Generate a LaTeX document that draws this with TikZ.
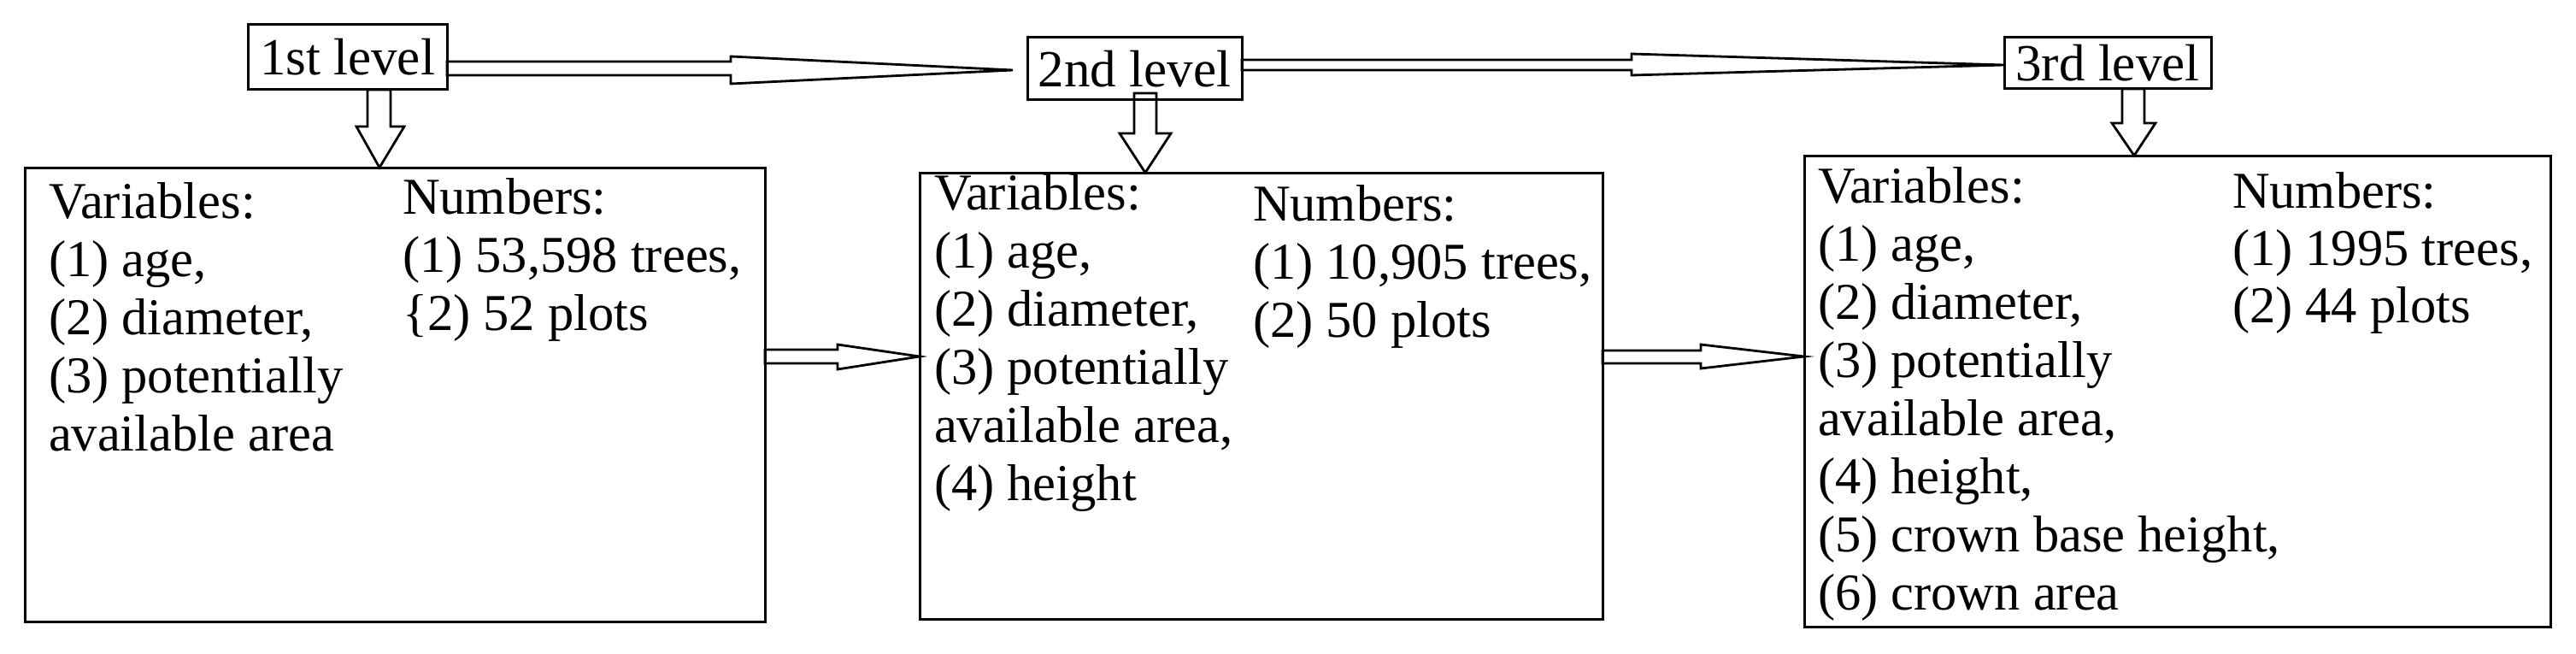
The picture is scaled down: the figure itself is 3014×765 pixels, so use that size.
\documentclass[tikz,border=0pt]{standalone}
\usepackage{fontspec}
\setmainfont{Liberation Serif}
\begin{document}
\begin{tikzpicture}[x=1pt,y=-1pt,
  box/.style={draw, line width=3pt, inner sep=0pt, outer sep=0pt},
  lvl/.style={box, font=\fontsize{61}{70}\selectfont},
  txt/.style={anchor=base west, inner sep=0pt, outer sep=0pt, font=\fontsize{60.5}{68}\selectfont},
  blk/.style={draw, line width=2.8pt, line join=miter}]
\useasboundingbox (0,0) rectangle (3014,765);

% level boxes
\node[lvl, minimum width=233pt, minimum height=76pt] (L1) at (406.5,67) {1st level};
\node[lvl, minimum width=251pt, minimum height=73pt] (L2) at (1327.5,80.5) {2nd level};
\node[lvl, minimum width=242pt, minimum height=60pt] (L3) at (2466,74) {3rd level};

% big boxes
\node[box, minimum width=866pt, minimum height=531pt] (B1) at (462,461.5) {};
\node[box, minimum width=799pt, minimum height=522pt] (B2) at (1475.5,463) {};
\node[box, minimum width=873pt, minimum height=551pt] (B3) at (2547.5,457.5) {};

% top horizontal block arrows
\draw[blk] (L1.east |- 0,72) -- (855,72) -- (855,66) -- (1185,82) -- (855,98) -- (855,88) -- (L1.east |- 0,88) -- cycle;
\draw[blk] (L2.east |- 0,70) -- (1909,70) -- (1909,63) -- (L3.west |- 0,76) -- (1909,88) -- (1909,82) -- (L2.east |- 0,82) -- cycle;

% middle horizontal block arrows
\draw[blk] (B1.east |- 0,409) -- (980,409) -- (980,403) -- (B2.west |- 0,417) -- (980,432) -- (980,425) -- (B1.east |- 0,425) -- cycle;
\draw[blk] (B2.east |- 0,410) -- (1990,410) -- (1990,403) -- (B3.west |- 0,417) -- (1990,431) -- (1990,425) -- (B2.east |- 0,425) -- cycle;

% down block arrows
\draw[blk] (430,105) -- (430,148) -- (417,148) -- (B1.north -| 444,0) -- (473,148) -- (457,148) -- (457,105) -- cycle;
\draw[blk] (1327,109) -- (1327,156) -- (1310,156) -- (B2.north -| 1340,0) -- (1370,156) -- (1353,156) -- (1353,109) -- cycle;
\draw[blk] (2483,104) -- (2483,144) -- (2471,144) -- (B3.north -| 2497,0) -- (2522,144) -- (2509,144) -- (2509,104) -- cycle;

% box 1 text
\node[txt] (b1v1) at (57,255) {Variables:};
\node[txt] (b1v2) at (57,323) {(1) age,};
\node[txt] (b1v3) at (57,391) {(2) diameter,};
\node[txt] (b1v4) at (57,459) {(3) potentially};
\node[txt] (b1v5) at (57,527) {available area};
\node[txt] (b1n1) at (471,250) {Numbers:};
\node[txt] (b1n2) at (471,318) {(1) 53,598 trees,};
\node[txt] (b1n3) at (471,386) {\{2) 52 plots};

% box 2 text
\node[txt] (b2v1) at (1093,245) {Variables:};
\node[txt] (b2v2) at (1093,313) {(1) age,};
\node[txt] (b2v3) at (1093,381) {(2) diameter,};
\node[txt] (b2v4) at (1093,449) {(3) potentially};
\node[txt] (b2v5) at (1093,517) {available area,};
\node[txt] (b2v6) at (1093,585) {(4) height};
\node[txt] (b2n1) at (1466,258) {Numbers:};
\node[txt] (b2n2) at (1466,326) {(1) 10,905 trees,};
\node[txt] (b2n3) at (1466,394) {(2) 50 plots};

% box 3 text
\node[txt] (b3v1) at (2127,237) {Variables:};
\node[txt] (b3v2) at (2127,305) {(1) age,};
\node[txt] (b3v3) at (2127,373) {(2) diameter,};
\node[txt] (b3v4) at (2127,441) {(3) potentially};
\node[txt] (b3v5) at (2127,509) {available area,};
\node[txt] (b3v6) at (2127,577) {(4) height,};
\node[txt] (b3v7) at (2127,645) {(5) crown base height,};
\node[txt] (b3v8) at (2127,713) {(6) crown area};
\node[txt] (b3n1) at (2612,243) {Numbers:};
\node[txt] (b3n2) at (2612,310) {(1) 1995 trees,};
\node[txt] (b3n3) at (2612,377) {(2) 44 plots};
\end{tikzpicture}
\end{document}
